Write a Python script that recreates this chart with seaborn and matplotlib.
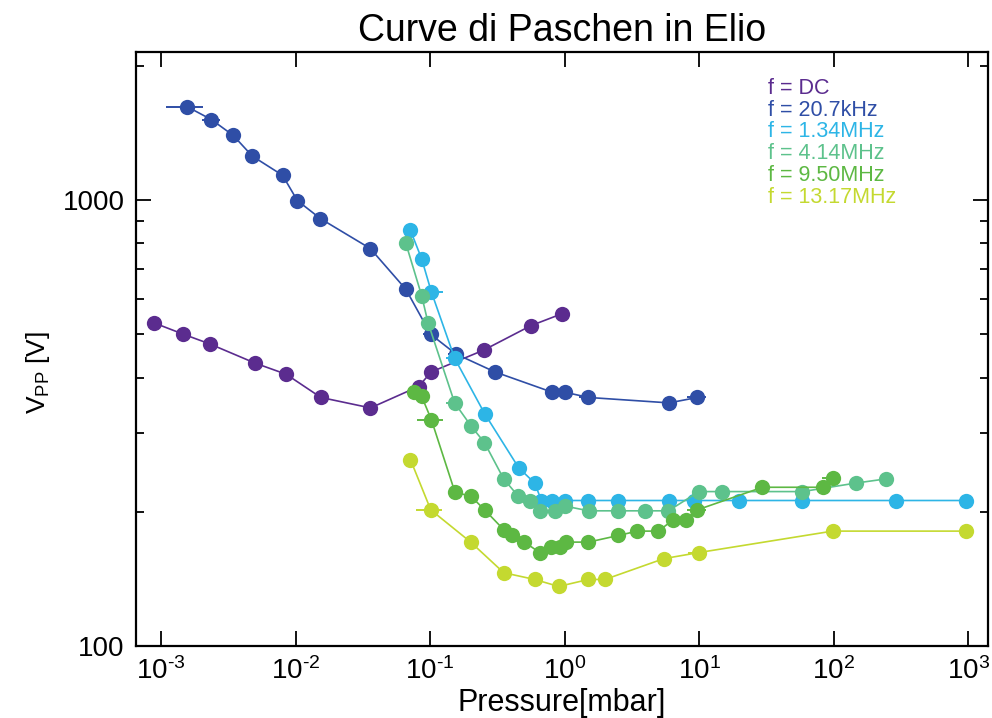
import numpy as np
import pandas as pd
import matplotlib
matplotlib.use("Agg")
import matplotlib.pyplot as plt
from matplotlib.ticker import NullFormatter, FixedLocator, FixedFormatter
import seaborn as sns

# Paschen curves in helium: breakdown peak-to-peak voltage vs pressure
labels = ["f = DC", "f = 20.7kHz", "f = 1.34MHz", "f = 4.14MHz", "f = 9.50MHz", "f = 13.17MHz"]
colors = ["#5b2c8f", "#2f4ea6", "#2db5e6", "#5dc28c", "#5db843", "#c4d930"]

p_dc = [8.8e-4, 1.45e-3, 2.3e-3, 5.0e-3, 8.5e-3, 0.0154, 0.036, 0.082, 0.102, 0.25, 0.56, 0.95]
v_dc = [531, 501, 476, 431, 407, 361, 342, 382, 412, 461, 523, 556]
e_dc = [0, 0, 0, 0, 0, 0.0018, 0, 0, 0, 0, 0, 0]

p_20k = [1.56e-3, 2.37e-3, 3.44e-3, 4.76e-3, 8.0e-3, 0.0103, 0.0153, 0.0359, 0.066,
         0.101, 0.155, 0.302, 0.805, 1.0, 1.5, 5.96, 9.7]
v_20k = [1621, 1516, 1397, 1256, 1137, 998, 909, 779, 631,
         500, 452, 412, 371, 371, 361, 351, 361]
e_20k = [4.8e-4, 3.6e-4, 4.0e-4, 0, 0, 1.2e-3, 1.8e-3, 0, 0,
         0.012, 0.02, 0, 0, 0.12, 0.22, 0, 1.6]

p_134 = [0.0713, 0.0864, 0.102, 0.152, 0.254, 0.455, 0.598, 0.671, 0.805, 1.0,
         1.5, 2.51, 5.96, 9.15, 19.7, 58.5, 292, 958]
v_134 = [856, 739, 623, 442, 332, 251, 232, 212, 212, 212,
         212, 212, 212, 212, 212, 212, 212, 212]
e_134 = [0, 0, 0.022, 0.02, 0, 0, 0, 0, 0, 0, 0, 0, 0, 0, 0, 0, 0, 0]

p_414 = [0.0658, 0.0864, 0.0964, 0.152, 0.202, 0.253, 0.352, 0.45, 0.556, 0.652, 0.853,
         1.0, 1.51, 2.51, 3.98, 5.9, 9.95, 14.7, 58.5, 146, 244]
v_414 = [802, 611, 531, 351, 311, 286, 237, 217, 212, 201, 201,
         206, 201, 201, 201, 201, 222, 222, 222, 232, 237]
e_414 = [0, 0, 0, 0.022, 0, 0, 0, 0, 0, 0, 0,
         0, 0, 0, 0, 0, 0, 0, 0, 0, 0]

p_950 = [0.0754, 0.0864, 0.102, 0.153, 0.2, 0.254, 0.354, 0.406, 0.502, 0.652, 0.796,
         0.918, 1.03, 1.5, 2.51, 3.47, 4.97, 6.41, 7.94, 9.67, 29.5, 83.3, 97.8]
v_950 = [371, 363, 322, 221, 217, 202, 182, 177, 171, 162, 167,
         167, 171, 171, 177, 181, 181, 192, 192, 202, 227, 227, 238]
e_950 = [0, 0, 0.022, 0, 0, 0, 0, 0, 0, 0, 0,
         0, 0, 0, 0, 0, 0, 0, 0, 1.6, 0, 0, 16]

p_1317 = [0.0713, 0.101, 0.2, 0.352, 0.598, 0.902, 1.5, 1.99, 5.45, 9.91, 97.8, 958]
v_1317 = [262, 202, 171, 146, 141, 136, 141, 141, 157, 162, 181, 181]
e_1317 = [0, 0.022, 0, 0, 0, 0, 0, 0, 0, 1.6, 0, 0]

x_ticks = [1e-3, 1e-2, 1e-1, 1, 10, 100, 1000]
x_ticklabels = [r"10$^{\text{-3}}$", r"10$^{\text{-2}}$", r"10$^{\text{-1}}$",
                r"10$^{\text{0}}$", r"10$^{\text{1}}$", r"10$^{\text{2}}$", r"10$^{\text{3}}$"]
y_ticks = [100, 1000]
y_ticklabels = ["100", "1000"]

series = [(p_dc, v_dc, e_dc), (p_20k, v_20k, e_20k), (p_134, v_134, e_134),
          (p_414, v_414, e_414), (p_950, v_950, e_950), (p_1317, v_1317, e_1317)]

frames = []
for lab, (p, v, e) in zip(labels, series):
    frames.append(pd.DataFrame({"pressure": p, "voltage": v, "perr": e, "freq": lab}))
df = pd.concat(frames, ignore_index=True)

sns.set_style("ticks")
plt.rcParams["font.family"] = ["Liberation Sans", "DejaVu Sans"]
plt.rcParams["mathtext.fontset"] = "custom"
plt.rcParams["mathtext.rm"] = "Liberation Sans"
plt.rcParams["mathtext.default"] = "regular"
for key in ["text.color", "axes.labelcolor", "xtick.color", "ytick.color",
            "xtick.labelcolor", "ytick.labelcolor", "axes.edgecolor"]:
    plt.rcParams[key] = "black"

fig = plt.figure(figsize=(9.92, 7.18), dpi=100)
ax = fig.add_axes([0.137, 0.1003, 0.859, 0.8273])

palette = dict(zip(labels, colors))
sns.lineplot(data=df, x="pressure", y="voltage", hue="freq", palette=palette,
             units="freq", estimator=None, sort=False, marker="o", markersize=11,
             markeredgewidth=0, linewidth=1.2, legend=False, ax=ax)

# horizontal pressure uncertainties
for lab, col in zip(labels, colors):
    sub = df[(df["freq"] == lab) & (df["perr"] > 0)]
    if len(sub):
        ax.errorbar(sub["pressure"], sub["voltage"], xerr=sub["perr"], fmt="none",
                    ecolor=col, elinewidth=1.4, capsize=0, zorder=1)

ax.set_xscale("log")
ax.set_yscale("log")
ax.set_xlim(6.5e-4, 1400)
ax.set_ylim(100, 2150)

ax.xaxis.set_major_locator(FixedLocator(x_ticks))
ax.xaxis.set_major_formatter(FixedFormatter(x_ticklabels))
ax.xaxis.set_minor_locator(FixedLocator([]))
ax.yaxis.set_major_locator(FixedLocator(y_ticks))
ax.yaxis.set_major_formatter(FixedFormatter(y_ticklabels))
ax.yaxis.set_minor_locator(FixedLocator([200, 300, 400, 500, 600, 700, 800, 900, 2000]))
ax.yaxis.set_minor_formatter(NullFormatter())

ax.tick_params(which="both", direction="in", top=True, right=True, color="black",
               labelsize=20, pad=8)
ax.tick_params(which="major", length=11, width=1.3)
ax.tick_params(which="minor", length=6, width=1.3)
for s in ax.spines.values():
    s.set_linewidth(1.6)
    s.set_color("black")

ax.set_xlabel("Pressure[mbar]", fontsize=22, labelpad=2)
ax.set_ylabel(r"V$_{\mathdefault{PP}}$ [V]", fontsize=19)
ax.yaxis.set_label_coords(-0.098, 0.46)
ax.set_title("Curve di Paschen in Elio", fontsize=27, pad=8)

for i, (lab, col) in enumerate(zip(labels, colors)):
    ax.text(0.742, 0.939 - i * 0.0368, lab, color=col, fontsize=15.5,
            transform=ax.transAxes, va="center", ha="left")

fig.savefig("out.png", dpi=100)
